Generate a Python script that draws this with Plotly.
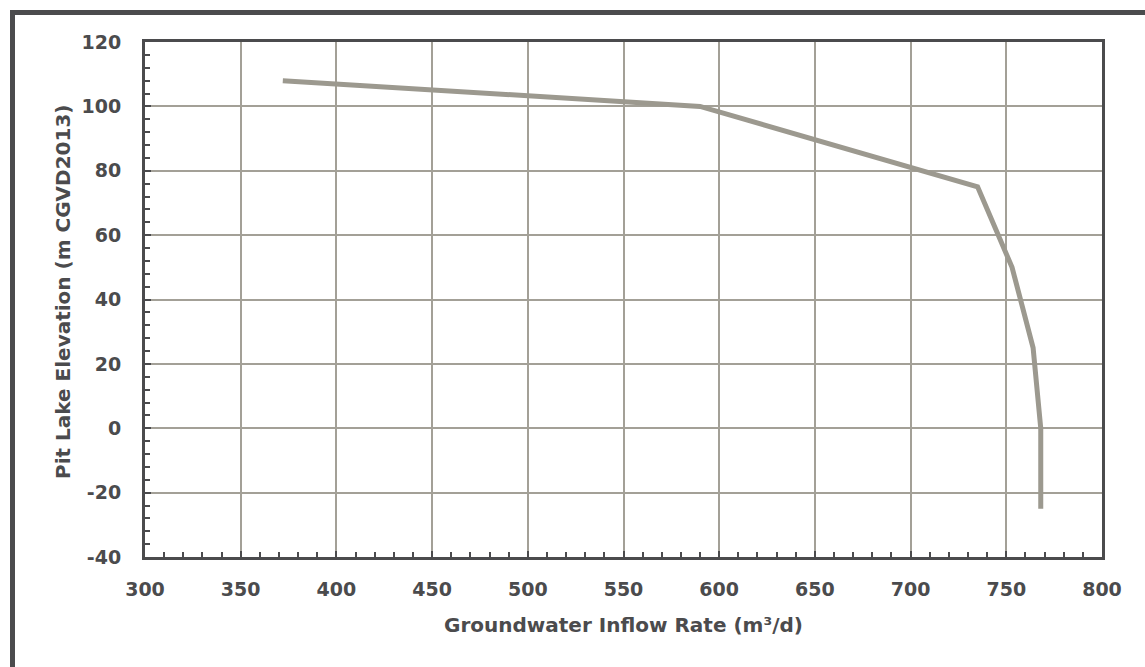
import plotly.graph_objects as go

inflow = [372, 590, 735, 753, 764, 768, 768]
elevation = [108, 100, 75, 50, 25, 0, -25]

x_ticks = [300, 350, 400, 450, 500, 550, 600, 650, 700, 750, 800]
y_ticks = [-40, -20, 0, 20, 40, 60, 80, 100, 120]

x_title = "Groundwater Inflow Rate (m³/d)"
y_title = "Pit Lake Elevation (m CGVD2013)"

axis_color = "#4b4b4d"
grid_color = "#a3a097"
line_color = "#9c998f"
font_family = "'DejaVu Sans', sans-serif"

W, H = 1145, 667
L, R, T, B = 145, 1145 - 1102, 42, 667 - 557
pw, ph = W - L - R, H - T - B

fig = go.Figure()
fig.add_trace(go.Scatter(x=inflow, y=elevation, mode="lines",
                         line=dict(color=line_color, width=5), showlegend=False))

common = dict(showline=True, linecolor=axis_color, linewidth=3, mirror=True,
              showgrid=True, gridcolor=grid_color, gridwidth=2,
              ticks="inside", ticklen=6, tickwidth=2, tickcolor=axis_color,
              zeroline=False,
              tickfont=dict(family=font_family, size=19, color=axis_color, weight="bold"))

fig.update_xaxes(range=[300, 800], tickvals=x_ticks, ticktext=[str(v) for v in x_ticks],
                 ticklabelstandoff=13,
                 minor=dict(ticks="inside", dtick=10, ticklen=5, tickwidth=2, tickcolor=axis_color, showgrid=False),
                 **common)
fig.update_yaxes(range=[-40, 120], tickvals=y_ticks, ticktext=[str(v) for v in y_ticks],
                 ticklabelstandoff=17,
                 minor=dict(ticks="inside", dtick=4, ticklen=5, tickwidth=2, tickcolor=axis_color, showgrid=False),
                 **common)

title_font = dict(family=font_family, size=20, color=axis_color, weight="bold")
fig.add_annotation(text=x_title, xref="paper", yref="paper",
                   x=(623 - L) / pw, y=-(625 - T - ph) / ph,
                   xanchor="center", yanchor="middle", showarrow=False, font=title_font)
fig.add_annotation(text=y_title, xref="paper", yref="paper",
                   x=(63 - L) / pw, y=1 - (292 - T) / ph, textangle=-90,
                   xanchor="center", yanchor="middle", showarrow=False, font=title_font)

# outer frame
fig.add_shape(type="rect", xref="paper", yref="paper",
              x0=(12.5 - L) / pw, x1=(W + 20 - L) / pw,
              y0=-(H + 20 - T - ph) / ph, y1=1 + (T - 12.5) / ph,
              line=dict(color=axis_color, width=5), fillcolor="rgba(0,0,0,0)", layer="below")

fig.update_layout(width=W, height=H, margin=dict(l=L, r=R, t=T, b=B),
                  plot_bgcolor="white", paper_bgcolor="white",
                  font=dict(family=font_family, color=axis_color))

fig.write_html("out.html")
